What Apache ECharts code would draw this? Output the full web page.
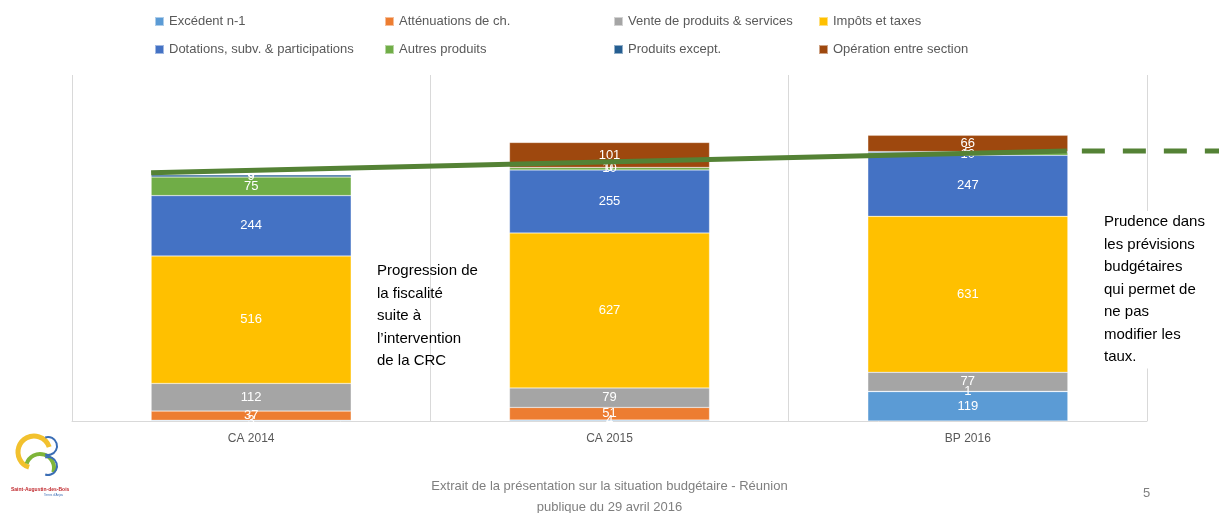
<!DOCTYPE html>
<html>
<head>
<meta charset="utf-8">
<script src="https://cdn.jsdelivr.net/npm/echarts@6/dist/echarts.min.js"></script>
<style>
html,body{margin:0;padding:0;background:#fff;}
#chart{width:1219px;height:513px;}
</style>
</head>
<body>
<div id="chart"></div>
<script>
var categories = ['CA 2014', 'CA 2015', 'BP 2016'];
var excedent = [3, 4, 119];
var attenuations = [37, 51, 1];
var vente = [112, 79, 77];
var impots = [516, 627, 631];
var dotations = [244, 255, 247];
var autres = [75, 10, 10];
var produitsExcept = [9, 0, 5];
var operation = [0, 101, 66];
var trendSolid = [[0.221, 1004], [2.779, 1092]];
var trendDashed = [[2.779, 1092], [3.204, 1092]];

var seriesDefs = [
  ['Excédent n-1', excedent, '#5b9bd5'],
  ['Atténuations de ch.', attenuations, '#ed7d31'],
  ['Vente de produits & services', vente, '#a5a5a5'],
  ['Impôts et taxes', impots, '#ffc000'],
  ['Dotations, subv. & participations', dotations, '#4472c4'],
  ['Autres produits', autres, '#70ad47'],
  ['Produits except.', produitsExcept, '#255e91'],
  ['Opération entre section', operation, '#9e480e']
];

var FONT = '"Liberation Sans", Arial, sans-serif';
var chart = echarts.init(document.getElementById('chart'));

var series = seriesDefs.map(function (d) {
  return {
    name: d[0], type: 'bar', stack: 'total', data: d[1],
    barWidth: 200, xAxisIndex: 0, yAxisIndex: 0,
    itemStyle: { color: d[2], borderColor: 'rgba(255,255,255,0.5)', borderWidth: 0.5 },
    label: { show: true, position: 'inside', color: '#fff', fontSize: 13, fontFamily: FONT },
    emphasis: { disabled: true }
  };
});
series.push({
  type: 'line', xAxisIndex: 1, yAxisIndex: 1, data: trendSolid,
  symbol: 'none', lineStyle: { color: '#548235', width: 5 }, z: 10, silent: true
});
series.push({
  type: 'line', xAxisIndex: 1, yAxisIndex: 1, data: trendDashed,
  symbol: 'none', lineStyle: { color: '#548235', width: 5, type: [23, 18], dashOffset: 26 }, z: 10, silent: true
});

var cols = [[0, 4], [1, 5], [2, 6], [3, 7]];
var colLeft = [149, 379, 608, 813];
var legends = cols.map(function (c, i) {
  return {
    orient: 'vertical', left: colLeft[i], top: 10, itemGap: 15,
    itemWidth: 9, itemHeight: 9, icon: 'rect',
    data: [seriesDefs[c[0]][0], seriesDefs[c[1]][0]],
    textStyle: { color: '#595959', fontSize: 13, fontFamily: FONT },
    selectedMode: false
  };
});

function textEl(x, y, lines, bg) {
  return {
    type: 'text', left: x, top: y, z: 20,
    style: { text: lines.join('\n'), fill: '#000', font: '15px ' + FONT, lineHeight: 22.5,
      backgroundColor: bg || 'transparent', padding: [0, 4, 0, 0] }
  };
}

var option = {
  animation: false,
  legend: legends,
  grid: [
    { left: 72, right: 72, top: 75, bottom: 92 },
    { left: 72, right: 0, top: 75, bottom: 92 }
  ],
  xAxis: [
    {
      type: 'category', data: categories, gridIndex: 0,
      axisLine: { lineStyle: { color: '#d9d9d9' } },
      axisTick: { show: false },
      splitLine: { show: true, lineStyle: { color: '#d9d9d9' } },
      axisLabel: { color: '#595959', fontSize: 12, fontFamily: FONT, margin: 12 }
    },
    { type: 'value', gridIndex: 1, min: 0, max: 3.204, show: false }
  ],
  yAxis: [
    { type: 'value', gridIndex: 0, min: 0, max: 1400, show: false, splitLine: { show: false } },
    { type: 'value', gridIndex: 1, min: 0, max: 1400, show: false, splitLine: { show: false } }
  ],
  series: series,
  graphic: [
    textEl(377, 260, ['Progression de', 'la fiscalité', 'suite à', 'l\u2019intervention', 'de la CRC']),
    textEl(1104, 211, ['Prudence dans', 'les prévisions', 'budgétaires', 'qui permet de', 'ne pas', 'modifier les', 'taux.'], '#fff'),
    {
      type: 'text', z: 20,
      style: { x: 609.5, y: 476, text: 'Extrait de la présentation sur la situation budgétaire - Réunion\npublique du 29 avril 2016', fill: '#7f7f7f', font: '13px ' + FONT, lineHeight: 21, align: 'center' }
    },
    { type: 'text', left: 1143, top: 487, style: { text: '5', fill: '#7f7f7f', font: '13px ' + FONT } },
    // logo approximation
    { type: 'arc', shape: { cx: 34, cy: 452, r: 16, startAngle: Math.PI * 0.6, endAngle: Math.PI * 1.9 }, style: { stroke: '#f2c12e', lineWidth: 5, fill: 'none' } },
    { type: 'arc', shape: { cx: 40, cy: 468, r: 14, startAngle: -Math.PI * 0.9, endAngle: Math.PI * 0.1 }, style: { stroke: '#7fb539', lineWidth: 4, fill: 'none' } },
    { type: 'arc', shape: { cx: 48, cy: 446, r: 9, startAngle: -Math.PI * 0.6, endAngle: Math.PI * 0.6 }, style: { stroke: '#3a6db5', lineWidth: 2, fill: 'none' } },
    { type: 'arc', shape: { cx: 48, cy: 466, r: 9, startAngle: -Math.PI * 0.6, endAngle: Math.PI * 0.6 }, style: { stroke: '#3a6db5', lineWidth: 2, fill: 'none' } },
    { type: 'text', left: 11, top: 487, style: { text: 'Saint-Augustin-des-Bois', fill: '#c0282d', font: 'bold 5px ' + FONT } },
    { type: 'text', left: 44, top: 494, style: { text: 'Terres d\u2019Anjou', fill: '#3a6db5', font: '3px ' + FONT } }
  ]
};
chart.setOption(option);
</script>
</body>
</html>
